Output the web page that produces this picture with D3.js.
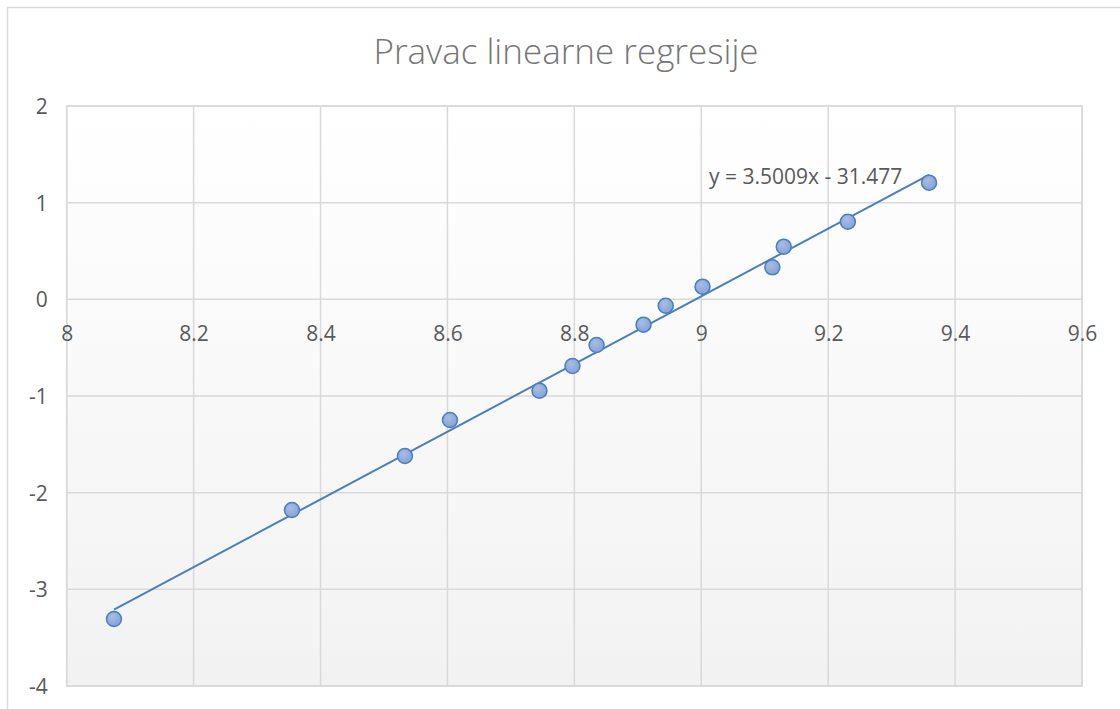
<!DOCTYPE html>
<html><head><meta charset="utf-8">
<script src="https://cdn.jsdelivr.net/npm/d3@7"></script>
<style>html,body{margin:0;padding:0;background:#fff;}svg{display:block;}</style>
</head><body>
<svg id="c" width="1120" height="709"></svg>
<script>
const title = "Pravac linearne regresije";
const xValues = [8.0745, 8.355, 8.533, 8.604, 8.745, 8.797, 8.835, 8.909, 8.944, 9.002, 9.112, 9.130, 9.231, 9.359];
const yValues = [-3.307, -2.179, -1.621, -1.248, -0.945, -0.690, -0.472, -0.262, -0.066, 0.131, 0.331, 0.545, 0.803, 1.207];
const xTicks = [8, 8.2, 8.4, 8.6, 8.8, 9, 9.2, 9.4, 9.6];
const yTicks = [2, 1, 0, -1, -2, -3, -4];
const slope = 3.5009, intercept = -31.477;
const equationLabel = "y = 3.5009x - 31.477";

const svg = d3.select("#c");
const font = "'Open Sans', sans-serif";
const grid = "#d9d9d9", txt = "#595959", blue = "#4a7ebf";
const L = 66.7, R = 1082, T = 106, B = 686;
const x = d3.scaleLinear().domain([8, 9.6]).range([L, R]);
const y = d3.scaleLinear().domain([-4, 2]).range([B, T]);
const fmt = d => String(+d.toFixed(2));

const defs = svg.append("defs");
const g1 = defs.append("linearGradient").attr("id","bg").attr("x1",0).attr("y1",0).attr("x2",0).attr("y2",1);
g1.append("stop").attr("offset","0%").attr("stop-color","#ffffff");
g1.append("stop").attr("offset","100%").attr("stop-color","#f2f2f2");
const g2 = defs.append("radialGradient").attr("id","mk").attr("cx","40%").attr("cy","35%").attr("r","70%");
g2.append("stop").attr("offset","0%").attr("stop-color","#a8bde3");
g2.append("stop").attr("offset","100%").attr("stop-color","#84a0d4");

// chart frame (extends beyond the visible area on right/bottom)
svg.append("rect").attr("x",7.5).attr("y",7.5).attr("width",1300).attr("height",900)
  .attr("fill","#fff").attr("stroke",grid).attr("stroke-width",1.5);

// plot background
svg.append("rect").attr("x",L).attr("y",T).attr("width",R-L).attr("height",B-T).attr("fill","url(#bg)");

// gridlines
svg.append("g").selectAll("line").data(xTicks).join("line")
  .attr("x1",d=>x(d)).attr("x2",d=>x(d)).attr("y1",T).attr("y2",B)
  .attr("stroke",grid).attr("stroke-width",1.5);
svg.append("g").selectAll("line").data(yTicks).join("line")
  .attr("x1",L).attr("x2",R).attr("y1",d=>y(d)).attr("y2",d=>y(d))
  .attr("stroke",grid).attr("stroke-width",1.5);
svg.append("rect").attr("x",L).attr("y",T).attr("width",R-L).attr("height",B-T)
  .attr("fill","none").attr("stroke",grid).attr("stroke-width",1.5);

// x axis labels (positioned below the y=0 axis)
const xAxis = d3.axisBottom(x).tickValues(xTicks).tickSize(0).tickPadding(0).tickFormat(fmt);
const gx = svg.append("g").attr("transform",`translate(0,${y(0)})`).call(xAxis);
gx.select(".domain").remove();
gx.selectAll("text").attr("font-family",font).attr("font-size",21).attr("fill",txt)
  .attr("dy",null).attr("y",42);

// y axis labels
const yAxis = d3.axisLeft(y).tickValues(yTicks).tickSize(0).tickPadding(0).tickFormat(fmt);
const gy = svg.append("g").attr("transform",`translate(${L-19},0)`).call(yAxis);
gy.select(".domain").remove();
gy.selectAll("text").attr("font-family",font).attr("font-size",21).attr("fill",txt).attr("dy","0.35em");

// trendline
const xMin = d3.min(xValues), xMax = d3.max(xValues);
svg.append("line").attr("x1",x(xMin)).attr("y1",y(slope*xMin+intercept))
  .attr("x2",x(xMax)).attr("y2",y(slope*xMax+intercept))
  .attr("stroke",blue).attr("stroke-width",2);

// points
svg.append("g").selectAll("circle").data(xValues.map((v,i)=>[v,yValues[i]])).join("circle")
  .attr("cx",d=>x(d[0])).attr("cy",d=>y(d[1])).attr("r",7.5)
  .attr("fill","url(#mk)").attr("stroke",blue).attr("stroke-width",1.5);

// equation label
svg.append("text").attr("x",709).attr("y",184).attr("font-family",font).attr("font-size",21)
  .attr("fill",txt).text(equationLabel);

// title
svg.append("text").attr("x",566).attr("y",64).attr("text-anchor","middle")
  .attr("font-family",font).attr("font-size",35).attr("font-weight",300).attr("fill","#767676").text(title);
</script>
</body></html>
